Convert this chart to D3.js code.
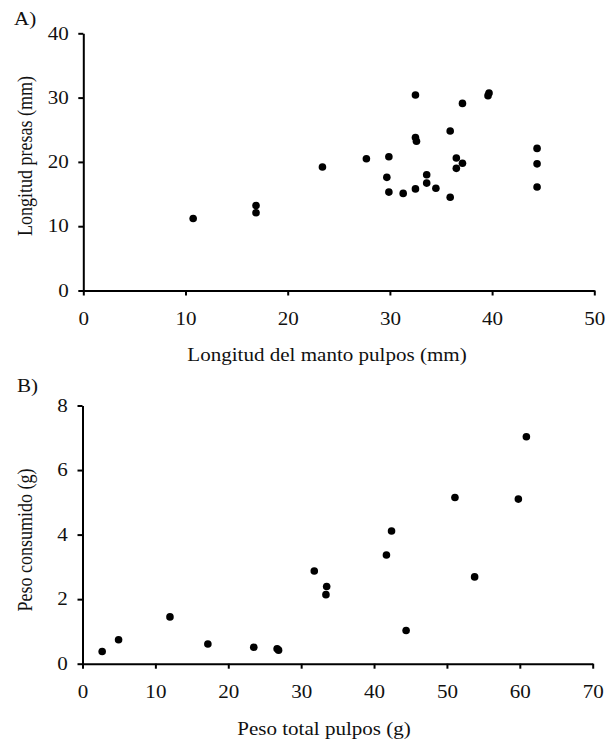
<!DOCTYPE html>
<html>
<head>
<meta charset="utf-8">
<script src="https://cdn.jsdelivr.net/npm/d3@7"></script>
<style>
  body { margin: 0; background: #fff; }
  svg { display: block; font-family: "Liberation Serif", "Times New Roman", serif; }
  .axis path, .axis line { stroke: #000; stroke-width: 2; }
  .axis text { font-size: 18px; fill: #111; font-family: "Liberation Serif", serif; }
  .title { font-size: 18px; fill: #111; }
</style>
</head>
<body>
<svg id="chart" width="614" height="742"></svg>
<script>
// Panel A: longitud del manto (mm) vs longitud presas (mm)
const mantoA = [10.75, 16.9, 16.9, 23.4, 27.7, 29.9, 29.7, 29.9, 31.3, 32.5, 32.5, 32.6, 32.5,
  33.6, 33.6, 34.5, 35.9, 35.9, 36.5, 37.1, 36.5, 37.1, 39.6, 39.7, 44.4, 44.4, 44.4]
const presasA = [11.2, 13.2, 12.1, 19.2, 20.5, 20.8, 17.6, 15.3, 15.1, 30.4, 23.8, 23.2, 15.8,
  18.0, 16.7, 15.9, 24.8, 14.5, 20.6, 19.8, 19.0, 29.1, 30.3, 30.7, 22.1, 19.7, 16.1]

// Panel B: peso total (g) vs peso consumido (g)
const pesoTotalB = [2.7, 4.95, 12.0, 17.2, 23.5, 26.7, 26.9, 31.8, 33.5, 33.4, 41.7, 42.4,
  44.4, 51.1, 53.8, 59.8, 60.9]
const consumidoB = [0.38, 0.74, 1.45, 0.61, 0.51, 0.46, 0.42, 2.87, 2.39, 2.14, 3.37, 4.11,
  1.03, 5.15, 2.69, 5.10, 7.03]

const ticksA_x = [0, 10, 20, 30, 40, 50]
const ticksA_y = [0, 10, 20, 30, 40]
const ticksB_x = [0, 10, 20, 30, 40, 50, 60, 70]
const ticksB_y = [0, 2, 4, 6, 8]

// the source figure is a little stretched sideways, so text gets a wider aspect
const stretch = 1.17

const svg = d3.select("#chart")

function panel(opts) {
  const x = d3.scaleLinear().domain(opts.xDomain).range([opts.xLeft, opts.xRight])
  const y = d3.scaleLinear().domain(opts.yDomain).range([opts.yBottom, opts.yTop])
  const g = svg.append("g")

  g.append("g").attr("class", "axis")
    .attr("transform", "translate(0," + opts.yBottom + ")")
    .call(d3.axisBottom(x).tickValues(opts.xTicks).tickSize(5).tickSizeOuter(0).tickPadding(17))
    .selectAll("text").attr("transform", "scale(" + stretch + ",1)")
  g.append("g").attr("class", "axis")
    .attr("transform", "translate(" + opts.xLeft + ",0)")
    .call(d3.axisLeft(y).tickValues(opts.yTicks).tickSize(5).tickSizeOuter(0).tickPadding(7.5))
    .selectAll("text").attr("transform", "scale(" + stretch + ",1)")

  g.selectAll("circle.dot")
    .data(opts.xs.map((v, i) => [v, opts.ys[i]]))
    .enter().append("circle")
      .attr("class", "dot")
      .attr("cx", d => x(d[0]))
      .attr("cy", d => y(d[1]))
      .attr("r", 3.8)
      .attr("fill", "#000")

  g.append("text").attr("class", "title")
    .attr("transform", "translate(" + opts.xTitleX + "," + opts.xTitleY + ") scale(" + stretch + ",1)")
    .attr("text-anchor", "middle")
    .text(opts.xTitle)
  g.append("text").attr("class", "title")
    .attr("transform", "translate(32," + opts.yTitleY + ") rotate(-90) scale(1," + stretch + ")")
    .attr("text-anchor", "middle")
    .text(opts.yTitle)
  g.append("text").attr("class", "title")
    .attr("transform", "translate(" + opts.labelX + "," + opts.labelY + ") scale(" + stretch + ",1)")
    .text(opts.label)
}

panel({
  xs: mantoA, ys: presasA,
  xDomain: [0, 50], yDomain: [0, 40],
  xTicks: ticksA_x, yTicks: ticksA_y,
  xLeft: 83.3, xRight: 594.3, yBottom: 290.5, yTop: 33.3,
  xTitle: "Longitud del manto pulpos (mm)", xTitleX: 327, xTitleY: 361,
  yTitle: "Longitud presas (mm)", yTitleY: 156,
  label: "A)", labelX: 14, labelY: 25
})

panel({
  xs: pesoTotalB, ys: consumidoB,
  xDomain: [0, 70], yDomain: [0, 8],
  xTicks: ticksB_x, yTicks: ticksB_y,
  xLeft: 82.5, xRight: 592.7, yBottom: 663.7, yTop: 405.5,
  xTitle: "Peso total pulpos (g)", xTitleX: 324, xTitleY: 735,
  yTitle: "Peso consumido (g)", yTitleY: 540,
  label: "B)", labelX: 17, labelY: 392
})
</script>
</body>
</html>
